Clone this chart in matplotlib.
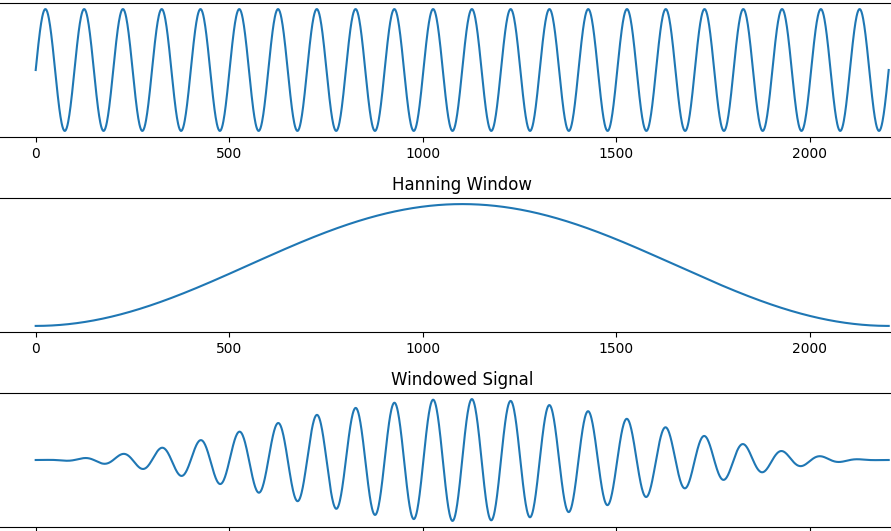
import numpy as np
import matplotlib.pyplot as plt

# signal parameters (440 Hz tone, 50 ms at 44.1 kHz)
sample_rate = 44100
freq = 440
duration = 0.05
n_samples = int(sample_rate * duration)

t = np.linspace(0, duration, n_samples)
signal = np.sin(2 * np.pi * freq * t)
window = np.hanning(n_samples)
windowed = signal * window

titles = ["Sine Wave", "Hanning Window", "Windowed Signal"]
series = [signal, window, windowed]

fig = plt.figure(figsize=(8.91, 5.31), dpi=100)

W, H = 891.0, 531.0
ax_left = -6.95 / W
ax_width = 938.3 / W
ax_h = 134.0 / H
tops = [3.0, 198.0, 393.0]  # pixel rows of each top spine

for top, y, title in zip(tops, series, titles):
    ax = fig.add_axes([ax_left, 1 - (top + 134.0) / H, ax_width, ax_h])
    ax.plot(y)
    ax.set_title(title)
    ax.set_yticks([])

fig.savefig("out.png", dpi=100)
